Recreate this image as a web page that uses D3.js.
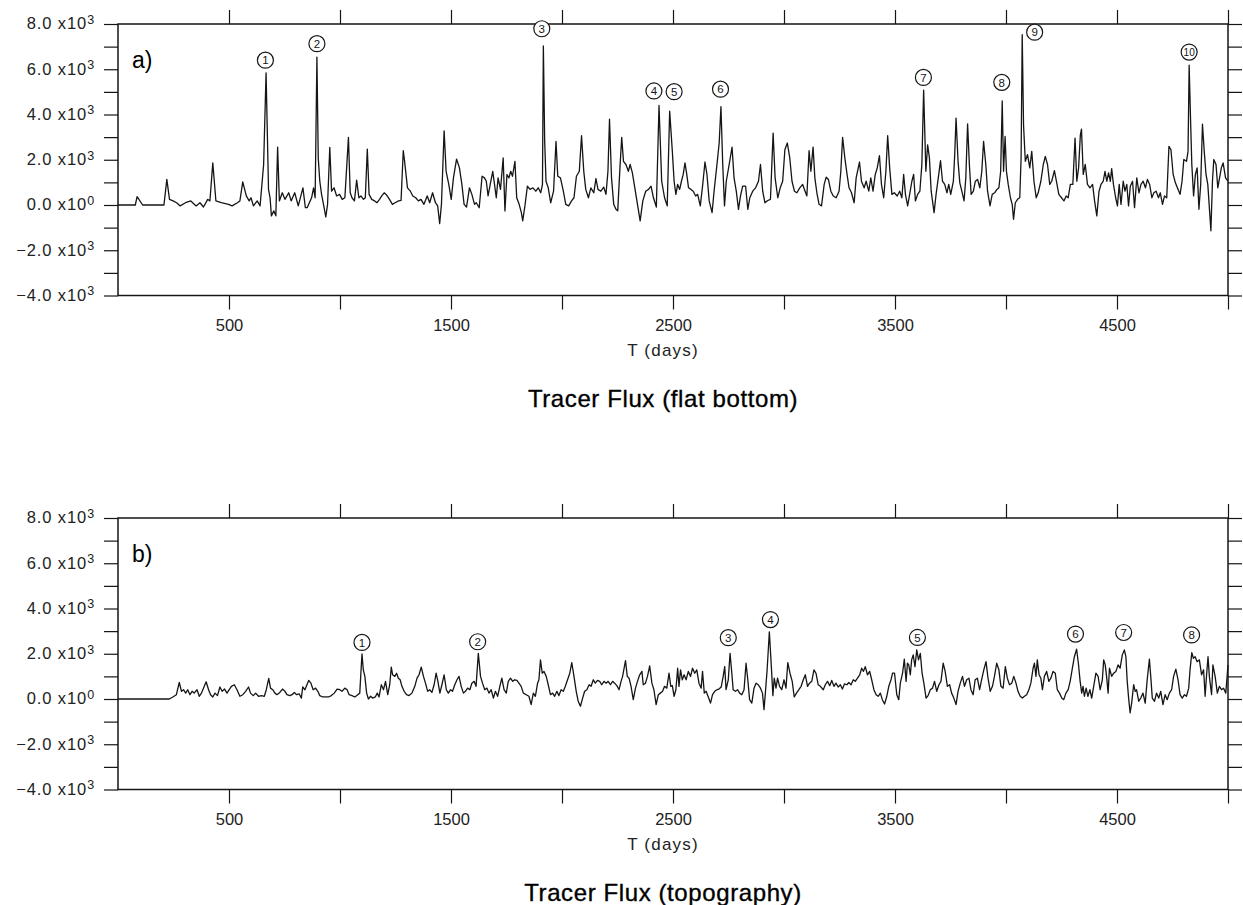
<!DOCTYPE html>
<html>
<head>
<meta charset="utf-8">
<script src="https://cdn.jsdelivr.net/npm/d3@7/dist/d3.min.js"></script>
<style>
  html, body { margin: 0; padding: 0; background: #fff; }
  svg { display: block; font-family: "Liberation Sans", Arial, Helvetica, sans-serif; }
</style>
</head>
<body>
<svg id="chart" width="1243" height="905"></svg>
<script>
// ---- Tracer flux, flat-bottom run (day, flux) ----
const flatDays = [0,78,86,111,207,220,232,248,264,280,304,328,352,369,385,404,414,427,441,465,498,514,538,549,562,578,591,599,610,627,640,656,667,678,685,691,702,711,719,727,740,752,769,780,796,812,833,844,852,872,881,888,896,902,909,917,927,936,944,954,962,973,985,998,1010,1022,1038,1046,1054,1065,1075,1085,1094,1106,1114,1123,1131,1143,1156,1167,1178,1188,1199,1210,1223,1236,1248,1264,1275,1285,1291,1304,1317,1328,1341,1353,1365,1378,1393,1404,1417,1430,1440,1449,1457,1469,1478,1490,1501,1511,1525,1538,1549,1559,1570,1583,1594,1606,1614,1627,1640,1651,1659,1667,1678,1688,1696,1704,1712,1723,1735,1743,1752,1761,1769,1777,1788,1796,1807,1817,1823,1833,1844,1856,1869,1882,1893,1904,1912,1916,1922,1928,1938,1949,1962,1973,1981,1993,2006,2017,2030,2043,2054,2065,2078,2088,2098,2107,2119,2130,2143,2153,2162,2175,2188,2198,2207,2214,2223,2233,2243,2251,2261,2269,2277,2288,2299,2307,2317,2328,2340,2352,2364,2377,2390,2401,2412,2425,2437,2449,2462,2474,2485,2497,2505,2513,2521,2530,2538,2546,2554,2562,2570,2581,2591,2602,2611,2623,2634,2644,2653,2663,2676,2685,2698,2708,2716,2724,2732,2740,2753,2766,2775,2785,2795,2804,2814,2827,2837,2846,2859,2872,2885,2894,2904,2914,2927,2939,2951,2960,2972,2983,2994,3004,3015,3026,3036,3047,3058,3071,3084,3095,3103,3113,3121,3131,3139,3148,3158,3169,3181,3190,3200,3211,3222,3235,3248,3256,3264,3274,3284,3293,3304,3316,3325,3340,3349,3361,3370,3382,3391,3401,3411,3420,3430,3439,3449,3459,3467,3476,3486,3497,3510,3521,3531,3539,3547,3557,3566,3576,3584,3592,3602,3612,3621,3629,3639,3647,3655,3663,3676,3685,3695,3705,3714,3724,3734,3742,3751,3763,3769,3775,3784,3792,3801,3811,3819,3827,3835,3843,3853,3862,3872,3882,3891,3899,3909,3917,3928,3938,3949,3959,3968,3976,3983,3989,3996,4002,4010,4020,4028,4034,4042,4052,4062,4068,4073,4079,4087,4097,4107,4116,4126,4136,4145,4157,4168,4177,4187,4197,4206,4218,4227,4238,4250,4261,4271,4280,4290,4301,4311,4319,4327,4335,4340,4348,4357,4367,4378,4390,4399,4409,4419,4428,4438,4446,4454,4462,4470,4476,4484,4494,4502,4510,4518,4528,4536,4544,4552,4560,4570,4579,4589,4599,4608,4618,4628,4637,4647,4657,4666,4676,4687,4695,4705,4714,4724,4734,4743,4753,4763,4772,4784,4793,4801,4813,4820,4825,4832,4837,4845,4853,4861,4869,4877,4885,4893,4901,4909,4917,4923,4930,4936,4946,4954,4962,4970,4978,4989,5000];
const flatFlux = [0,0,370,0,0,1130,250,180,100,-40,100,180,-40,100,-90,250,180,1860,180,100,30,-40,100,180,1020,400,180,320,-40,180,-40,1790,5840,690,320,-480,-260,-480,2560,180,540,250,540,180,540,-40,760,-120,-120,320,760,320,6540,2080,1050,470,-40,-530,30,2550,610,760,400,470,250,320,2990,540,320,180,1100,320,400,250,320,2470,470,250,180,100,250,400,540,440,250,30,100,180,200,2400,1930,760,610,400,320,180,250,30,400,100,540,100,-40,-820,30,3280,1490,910,250,1200,2030,1640,910,30,-90,760,470,30,100,-120,1270,1200,1050,400,980,1490,910,320,1200,690,2080,-260,1350,1200,1490,1270,1930,320,30,-340,-700,-40,830,690,760,610,760,540,910,7030,2810,1050,760,100,610,2810,1270,1200,610,30,-40,180,320,1270,1490,3060,1490,690,320,760,540,1170,690,610,790,470,1490,3790,1200,30,-190,-260,1640,2990,1930,1790,1490,1790,1420,760,30,-700,180,610,690,830,320,-90,4400,1050,320,-40,4150,2370,1050,470,910,690,1050,1350,1860,1350,760,690,610,400,470,-40,910,1900,1350,180,-340,610,1790,2740,4350,1790,-40,1050,1790,2560,1200,610,-190,400,830,830,-190,320,610,760,1050,1790,610,100,200,250,3180,1200,320,760,1050,2440,2740,2080,1050,610,540,760,910,610,400,2400,1490,2560,1200,540,30,-40,910,1230,1130,610,400,320,610,1490,2990,2080,1350,760,540,100,1200,1900,1050,760,1050,610,1200,610,1350,1640,2180,910,320,1490,3060,1640,470,540,400,610,320,1350,470,-40,470,1050,1350,180,470,610,1790,5080,1490,2660,2080,610,-340,470,1200,1960,1050,910,540,910,470,1050,2230,3840,1930,980,610,180,1200,3590,1790,470,610,1050,1130,760,1490,2810,1790,610,-40,470,540,690,760,1490,4600,1490,3030,1490,910,320,30,-630,100,250,320,2080,7530,3540,1930,2230,1640,2370,1050,320,540,1050,1790,2150,1790,910,1050,1520,1050,470,320,180,400,320,910,910,2960,1050,1640,3100,3350,1350,1790,910,760,910,180,-480,610,910,1050,1490,1050,1420,1050,1610,910,320,-40,910,30,1050,610,910,-40,830,1050,-120,1200,540,910,1050,760,1130,910,320,540,610,320,540,30,400,320,2590,2440,1350,980,760,470,1050,2010,1930,2370,6180,3540,1790,400,1350,1640,-190,910,3570,2370,1350,910,-260,-1140,1050,2010,1790,760,1200,1640,1860,1200,1050];

// ---- Tracer flux, topography run (day, flux) ----
const topoDays = [0,231,247,263,276,286,295,305,314,324,334,343,356,366,376,385,397,408,417,427,437,448,459,469,480,491,501,511,524,536,549,562,575,588,597,609,620,633,646,659,668,679,687,697,707,716,729,741,752,761,774,784,794,805,816,826,832,842,851,859,869,879,890,900,909,922,948,961,974,987,999,1009,1022,1032,1041,1054,1067,1080,1089,1099,1105,1112,1120,1128,1138,1147,1159,1168,1176,1186,1196,1205,1215,1224,1231,1237,1247,1255,1263,1271,1279,1289,1300,1311,1324,1337,1347,1356,1366,1376,1385,1395,1404,1414,1424,1433,1441,1450,1459,1469,1479,1488,1498,1507,1517,1527,1536,1546,1556,1565,1575,1585,1594,1604,1613,1623,1633,1642,1652,1662,1671,1681,1691,1700,1710,1720,1729,1739,1749,1758,1768,1778,1787,1797,1806,1816,1826,1839,1851,1861,1871,1880,1890,1896,1903,1911,1919,1929,1938,1948,1958,1967,1977,1986,1996,2006,2015,2025,2035,2044,2054,2064,2073,2083,2093,2102,2112,2122,2131,2141,2150,2160,2170,2179,2189,2199,2208,2218,2228,2237,2247,2257,2266,2273,2286,2294,2302,2311,2321,2331,2340,2350,2360,2366,2376,2385,2395,2405,2414,2424,2434,2443,2453,2462,2472,2482,2490,2497,2505,2513,2521,2527,2534,2542,2550,2559,2569,2579,2588,2598,2607,2617,2627,2633,2641,2649,2659,2669,2678,2688,2698,2707,2717,2726,2733,2739,2749,2757,2765,2771,2781,2791,2800,2810,2820,2829,2837,2845,2855,2865,2874,2884,2894,2903,2910,2916,2924,2934,2943,2950,2956,2964,2971,2980,2990,3000,3009,3017,3027,3037,3046,3056,3067,3077,3087,3096,3106,3115,3125,3135,3144,3154,3164,3177,3186,3196,3206,3215,3225,3234,3244,3254,3263,3273,3283,3292,3302,3312,3321,3331,3341,3350,3358,3366,3376,3386,3395,3405,3415,3424,3434,3443,3453,3463,3472,3482,3489,3498,3508,3517,3524,3534,3542,3550,3556,3562,3569,3575,3582,3590,3598,3606,3614,3622,3630,3640,3649,3659,3669,3678,3688,3698,3707,3717,3726,3736,3746,3755,3765,3775,3784,3794,3804,3813,3823,3833,3842,3852,3861,3871,3881,3890,3900,3910,3919,3929,3939,3948,3958,3968,3977,3987,3997,4006,4016,4026,4035,4045,4054,4064,4074,4083,4093,4103,4112,4122,4128,4135,4141,4149,4157,4164,4173,4183,4193,4202,4212,4222,4231,4241,4251,4260,4270,4280,4289,4299,4308,4318,4326,4334,4341,4347,4353,4361,4369,4378,4386,4395,4405,4415,4424,4434,4440,4447,4453,4460,4466,4476,4485,4495,4505,4514,4524,4533,4540,4546,4553,4559,4566,4575,4582,4588,4598,4607,4617,4627,4636,4646,4652,4659,4669,4678,4688,4697,4707,4717,4726,4736,4746,4755,4765,4775,4784,4794,4804,4813,4823,4829,4837,4844,4852,4861,4871,4881,4890,4897,4903,4910,4916,4926,4932,4942,4952,4961,4971,4980,4990,5000];
const topoFlux = [0,0,90,190,730,340,410,260,410,190,340,260,410,120,260,480,760,410,190,90,260,150,530,340,440,260,410,560,630,410,120,190,340,530,260,150,260,120,150,120,410,910,480,410,260,190,290,440,340,190,150,190,290,190,230,40,530,410,630,820,700,410,480,340,150,90,90,150,260,440,410,340,480,410,190,150,90,190,260,1990,1290,1000,260,0,120,40,90,260,90,630,410,780,190,630,1410,1070,1000,1140,920,850,560,340,190,150,260,560,920,1070,1410,1000,700,340,410,290,630,1140,780,260,630,1070,410,260,410,340,630,850,1000,560,260,340,480,410,700,780,560,2020,1000,700,410,480,260,410,40,340,120,560,920,410,260,780,920,780,850,820,700,560,260,190,120,-250,260,120,700,850,1730,1140,1220,1000,630,190,260,120,340,150,410,340,560,850,1140,1610,1000,340,-100,-320,40,340,410,630,560,850,700,820,780,630,780,700,780,630,780,700,590,410,780,1000,1700,1000,920,560,-30,480,780,1070,1220,630,700,1000,1460,700,410,-250,190,260,340,560,480,1140,560,590,120,410,1360,560,1290,850,1070,850,1220,1000,1360,1140,1290,700,480,1220,260,340,90,-180,190,340,410,440,530,1000,1430,410,850,2020,1140,410,340,410,260,190,410,1580,850,-30,-180,480,700,630,480,260,-470,260,1290,2970,1430,150,920,480,920,560,410,850,480,1610,1140,780,90,260,410,560,850,1070,560,700,780,1290,1140,630,560,410,630,780,590,820,560,700,530,630,440,670,630,730,630,850,780,920,1070,1360,1220,1430,1070,1220,850,410,190,120,260,-30,-220,120,560,850,1140,1140,190,-30,700,1140,1760,780,1580,1510,1070,1730,1950,1430,2170,1730,2020,1140,700,40,150,410,480,780,340,630,780,1580,1220,560,630,260,40,-250,340,700,1000,560,850,920,410,190,850,920,410,850,1290,1650,920,340,560,1000,1580,1290,560,480,1430,920,630,700,1000,700,340,120,40,120,190,410,700,1360,1580,1000,1730,1070,920,410,1000,1220,780,920,1220,1140,410,260,40,-30,260,410,780,1360,1870,2200,1580,780,260,560,120,480,120,410,40,560,1140,1000,410,850,1730,1510,1000,260,1360,1000,1140,1220,1510,1360,1950,2170,1870,780,-30,-610,-180,630,340,410,-100,40,260,-180,850,1760,1000,40,-100,260,40,340,-250,190,-30,260,410,1000,1320,850,190,40,190,120,480,1290,2050,1800,1870,1650,1730,1070,1290,120,1000,1870,1000,190,1510,1000,260,560,410,480,260,1500];

// ---- Numbered events: position of each circled label (day, flux) ----
const flatEventDays = [664,896,1909,2414,2505,2714,3628,3981,4129,4825];
const flatEventFlux = [6400,7130,7790,5040,5010,5120,5640,5420,7640,6760];
const topoEventDays = [1099,1620,2749,2939,3601,4313,4530,4836];
const topoEventFlux = [2500,2530,2710,3510,2720,2870,2940,2830];

// ---- Axes ----
const dayTicks = [500,1000,1500,2000,2500,3000,3500,4000,4500,5000];
const dayTickLabels = [500,1500,2500,3500,4500];
const fluxTicks = [-4000,-3000,-2000,-1000,0,1000,2000,3000,4000,5000,6000,7000,8000];
const fluxTickLabels = [-4000,-2000,0,2000,4000,6000,8000];

const panels = [
  { tag: "a)", title: "Tracer Flux (flat bottom)", days: flatDays, flux: flatFlux,
    evDays: flatEventDays, evFlux: flatEventFlux, top: 24 },
  { tag: "b)", title: "Tracer Flux (topography)", days: topoDays, flux: topoFlux,
    evDays: topoEventDays, evFlux: topoEventFlux, top: 518 }
];

const svg = d3.select("#chart");
const left = 118, right = 1228, plotH = 271.5;
const textCenter = 663;
const ink = "#151515";

function fluxLabel(v) {
  const exp = v === 0 ? 0 : 3;
  const mant = (v / 1000).toFixed(1).replace("-", "\u2212");
  return { mant, exp };
}

panels.forEach(p => {
  const x = d3.scaleLinear().domain([0, 5000]).range([left, right]);
  const y = d3.scaleLinear().domain([-4000, 8000]).range([p.top + plotH, p.top]);
  const g = svg.append("g");

  // frame
  g.append("rect")
    .attr("x", left).attr("y", p.top)
    .attr("width", right - left).attr("height", plotH)
    .attr("fill", "none").attr("stroke", ink).attr("stroke-width", 1.5);

  const styleAxis = sel => {
    sel.select(".domain").remove();
    sel.selectAll(".tick line").attr("stroke", ink).attr("stroke-width", 1.2);
  };

  // left axis with labels
  const yl = g.append("g").attr("transform", `translate(${left},0)`)
    .call(d3.axisLeft(y).tickValues(fluxTicks).tickSize(14).tickPadding(8).tickFormat(""))
    .call(styleAxis);
  yl.selectAll(".tick").each(function(d) {
    if (!fluxTickLabels.includes(d)) return;
    const t = fluxLabel(d);
    const txt = d3.select(this).select("text")
      .attr("fill", "#222").attr("font-size", 16.5).attr("letter-spacing", 0.9)
      .attr("x", -23).attr("dy", "0.3em").attr("text-anchor", "end");
    txt.text(null);
    txt.append("tspan").text(t.mant + " x10");
    txt.append("tspan").attr("dy", "-0.45em").attr("font-size", 12.5).text(t.exp);
  });

  // right axis
  g.append("g").attr("transform", `translate(${right},0)`)
    .call(d3.axisRight(y).tickValues(fluxTicks).tickSize(14).tickFormat(""))
    .call(styleAxis);

  // top axis
  g.append("g").attr("transform", `translate(0,${p.top})`)
    .call(d3.axisTop(x).tickValues(dayTicks).tickSize(14).tickFormat(""))
    .call(styleAxis);

  // bottom axis
  g.append("g").attr("transform", `translate(0,${p.top + plotH})`)
    .call(d3.axisBottom(x).tickValues(dayTicks).tickSize(14).tickPadding(10)
      .tickFormat(d => dayTickLabels.includes(d) ? d : ""))
    .call(styleAxis)
    .call(s => s.selectAll("text").attr("fill", "#222").attr("font-size", 16.5)
      .attr("font-family", "Liberation Sans, Arial, sans-serif"));

  // axis title
  g.append("text")
    .attr("x", textCenter).attr("y", p.top + plotH + 60)
    .attr("text-anchor", "middle").attr("font-size", 17).attr("letter-spacing", 1.2)
    .attr("fill", "#222").text("T (days)");

  // panel title
  g.append("text")
    .attr("x", textCenter).attr("y", p.top + plotH + 111)
    .attr("text-anchor", "middle").attr("font-size", 24).attr("letter-spacing", 0.6)
    .attr("fill", "#000").attr("stroke", "#000").attr("stroke-width", 0.35)
    .text(p.title);

  // panel tag
  g.append("text")
    .attr("x", left + 14).attr("y", p.top + 44)
    .attr("font-size", 23).attr("fill", "#000").text(p.tag);

  // flux series
  const line = d3.line()
    .x((d, i) => x(p.days[i]))
    .y((d, i) => y(p.flux[i]));
  g.append("path")
    .datum(p.flux)
    .attr("d", line)
    .attr("fill", "none").attr("stroke", ink).attr("stroke-width", 1.3)
    .attr("stroke-linejoin", "round");

  // numbered events
  const ev = g.append("g").selectAll("g")
    .data(p.evDays.map((d, i) => ({ day: d, flux: p.evFlux[i], n: i + 1 })))
    .join("g")
    .attr("transform", d => `translate(${x(d.day)},${y(d.flux)})`);
  ev.append("circle").attr("r", 8)
    .attr("fill", "#fff").attr("stroke", ink).attr("stroke-width", 1.2);
  ev.append("text")
    .attr("text-anchor", "middle").attr("dy", "0.36em")
    .attr("font-size", d => d.n >= 10 ? 10 : 11.5)
    .attr("fill", ink).text(d => d.n);
});
</script>
</body>
</html>
